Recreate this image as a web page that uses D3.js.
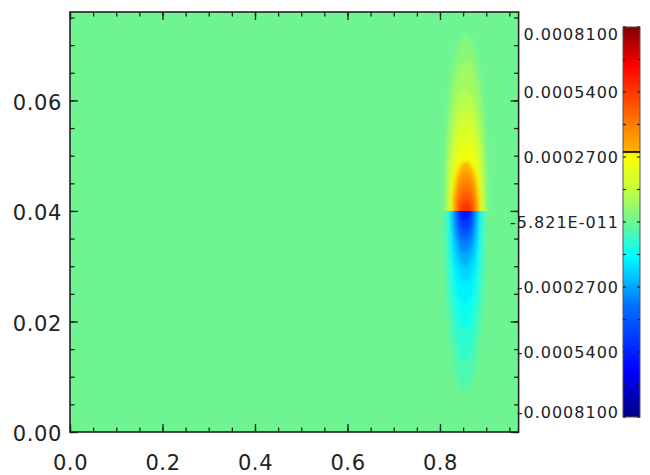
<!DOCTYPE html>
<html><head><meta charset="utf-8">
<script src="https://cdn.jsdelivr.net/npm/d3@7"></script>
<style>body{margin:0;background:#fff}svg{display:block}</style>
</head><body>
<svg id="c" width="650" height="475"></svg>
<script>
// ---- data ----
const xMajor = [0, 0.2, 0.4, 0.6, 0.8];
const yMajor = [0, 0.02, 0.04, 0.06];
const xDomain = [0, 0.97];
const yDomain = [0, 0.076];
const lobeBaseY = 0.04;
const upperCenterX = 0.856;
const lowerCenterX = 0.854;
// nested contour levels (value, half width in x units, length in y units)
const upperValues = [0.00004, 0.00008, 0.00012, 0.00016, 0.0002, 0.00025, 0.0003, 0.00036, 0.00042, 0.00048, 0.00055];
const upperHalfW  = [0.047, 0.044, 0.040, 0.037, 0.0346, 0.0324, 0.0292, 0.026, 0.0216, 0.0184, 0.0151];
const upperLen    = [0.0319, 0.0271, 0.0217, 0.0181, 0.0154, 0.0118, 0.0090, 0.0072, 0.0054, 0.0036, 0.0018];
const lowerValues = [-0.00004, -0.00008, -0.00012, -0.00016, -0.0002, -0.00026, -0.00032, -0.0004, -0.00048, -0.00056];
const lowerHalfW  = [0.045, 0.039, 0.0346, 0.0324, 0.0303, 0.027, 0.0238, 0.0205, 0.0173, 0.014];
const lowerLen    = [0.0326, 0.0271, 0.0217, 0.0167, 0.0127, 0.010, 0.0076, 0.0054, 0.0036, 0.0018];
// colour bar
const cbDomain = [-0.00081, 0.00081];
const cbStopValues = [-0.00081, -0.00062, -0.00035, -0.00014, 0, 0.00014, 0.00028, 0.000292, 0.0004, 0.00065, 0.00081];
const cbStopColors = ["#00007f", "#0000ff", "#0070ff", "#00ffff", "#6ef592", "#c8ff3a", "#ffff00", "#ffb400", "#ff8000", "#ff0000", "#800000"];
const cbMarkValue = 0.000291;
const cbLabelValues = [0.00081, 0.00054, 0.00027, 0, -0.00027, -0.00054, -0.00081];
const cbLabelTexts = ["0.0008100", "0.0005400", "0.0002700", "-5.821E-011", "-0.0002700", "-0.0005400", "-0.0008100"];

// ---- layout ----
const L = 70, R = 518.6, T = 12, B = 432;
const cbX = 623, cbW = 17, cbTop = 27, cbBot = 417;
const font = "DejaVu Sans, Verdana, sans-serif";
const ink = "#222";

const svg = d3.select("#c");
const x = d3.scaleLinear().domain(xDomain).range([L, R]);
const y = d3.scaleLinear().domain(yDomain).range([B, T]);
const color = d3.scaleLinear().domain(cbStopValues).range(cbStopColors).clamp(true);
const cb = d3.scaleLinear().domain(cbDomain).range([cbBot, cbTop]);

const defs = svg.append("defs");
defs.append("clipPath").attr("id", "upClip").append("rect")
  .attr("x", L).attr("y", T).attr("width", R - L).attr("height", y(lobeBaseY) - T);
defs.append("clipPath").attr("id", "lowClip").append("rect")
  .attr("x", L).attr("y", y(lobeBaseY)).attr("width", R - L).attr("height", B - y(lobeBaseY));
const blur = defs.append("filter").attr("id", "soft").attr("x", "-50%").attr("y", "-50%").attr("width", "200%").attr("height", "200%");
blur.append("feGaussianBlur").attr("stdDeviation", 2.2);

// background (value 0)
svg.append("rect").attr("x", L).attr("y", T).attr("width", R - L).attr("height", B - T)
  .attr("fill", color(0));

function lobe(values, hw, len, cx, clipId) {
  const outer = svg.append("g").attr("clip-path", `url(#${clipId})`);
  const g = outer.append("g").attr("filter", "url(#soft)");
  values.forEach((v, i) => {
    g.append("ellipse")
      .attr("cx", x(cx))
      .attr("cy", y(lobeBaseY))
      .attr("rx", x(cx + hw[i]) - x(cx))
      .attr("ry", y(lobeBaseY) - y(lobeBaseY + len[i]))
      .attr("fill", color(v));
  });
}
lobe(upperValues, upperHalfW, upperLen, upperCenterX, "upClip");
lobe(lowerValues, lowerHalfW, lowerLen, lowerCenterX, "lowClip");

// ---- axes ----
const xMinor = d3.range(0, 0.951, 0.05);
const yMinor = d3.range(0, 0.0751, 0.005);
function styleAxis(g) {
  g.select(".domain").remove();
  g.selectAll("line").attr("stroke", ink).attr("stroke-width", 1.3);
  g.selectAll("text").attr("fill", ink).attr("font-family", font).attr("font-size", 21)
    .attr("letter-spacing", 0.6);
}
// bottom
svg.append("g").attr("transform", `translate(0,${B})`)
  .call(d3.axisBottom(x).tickValues(xMinor).tickSize(-4.5).tickFormat("")).call(styleAxis);
svg.append("g").attr("transform", `translate(0,${B})`)
  .call(d3.axisBottom(x).tickValues(xMajor).tickSize(-8).tickPadding(23).tickFormat(d3.format(".1f"))).call(styleAxis);
// top
svg.append("g").attr("transform", `translate(0,${T})`)
  .call(d3.axisTop(x).tickValues(xMinor).tickSize(-4.5).tickFormat("")).call(styleAxis);
svg.append("g").attr("transform", `translate(0,${T})`)
  .call(d3.axisTop(x).tickValues(xMajor).tickSize(-8).tickFormat("")).call(styleAxis);
// left
svg.append("g").attr("transform", `translate(${L},0)`)
  .call(d3.axisLeft(y).tickValues(yMinor).tickSize(-4.5).tickFormat("")).call(styleAxis);
const yl = svg.append("g").attr("transform", `translate(${L},0)`)
  .call(d3.axisLeft(y).tickValues(yMajor).tickSize(-8).tickPadding(8).tickFormat(d3.format(".2f"))).call(styleAxis);
yl.selectAll("text").attr("dy", "0.42em");
// right
svg.append("g").attr("transform", `translate(${R},0)`)
  .call(d3.axisRight(y).tickValues(yMinor).tickSize(-4.5).tickFormat("")).call(styleAxis);
svg.append("g").attr("transform", `translate(${R},0)`)
  .call(d3.axisRight(y).tickValues(yMajor).tickSize(-8).tickFormat("")).call(styleAxis);
// frame
svg.append("rect").attr("x", L).attr("y", T).attr("width", R - L).attr("height", B - T)
  .attr("fill", "none").attr("stroke", ink).attr("stroke-width", 1.6);

// ---- colour bar ----
const grad = defs.append("linearGradient").attr("id", "cbGrad")
  .attr("x1", 0).attr("y1", 1).attr("x2", 0).attr("y2", 0);
cbStopValues.forEach((v, i) => {
  grad.append("stop")
    .attr("offset", (v - cbDomain[0]) / (cbDomain[1] - cbDomain[0]))
    .attr("stop-color", cbStopColors[i]);
});
svg.append("rect").attr("x", cbX).attr("y", cbTop).attr("width", cbW).attr("height", cbBot - cbTop)
  .attr("fill", "url(#cbGrad)").attr("stroke", "#555").attr("stroke-width", 1);
const cbTicks = d3.range(-0.00081, 0.000811, 0.000135);
svg.append("g").selectAll("line.l").data(cbTicks).join("line")
  .attr("x1", cbX).attr("x2", cbX + 3).attr("y1", d => cb(d)).attr("y2", d => cb(d))
  .attr("stroke", ink).attr("stroke-width", 1.2);
svg.append("g").selectAll("line.r").data(cbTicks).join("line")
  .attr("x1", cbX + cbW - 3).attr("x2", cbX + cbW).attr("y1", d => cb(d)).attr("y2", d => cb(d))
  .attr("stroke", ink).attr("stroke-width", 1.2);
svg.append("line").attr("x1", cbX).attr("x2", cbX + cbW)
  .attr("y1", cb(cbMarkValue)).attr("y2", cb(cbMarkValue))
  .attr("stroke", "#111").attr("stroke-width", 1.8);
svg.append("g").selectAll("text").data(cbLabelValues).join("text")
  .attr("x", 619)
  .attr("y", d => Math.min(cbBot - 5, Math.max(cbTop + 7, cb(d))))
  .attr("dy", "0.36em")
  .attr("text-anchor", "end")
  .attr("font-family", font).attr("font-size", 16).attr("letter-spacing", 1)
  .attr("fill", ink)
  .text((d, i) => cbLabelTexts[i]);
</script>
</body></html>
